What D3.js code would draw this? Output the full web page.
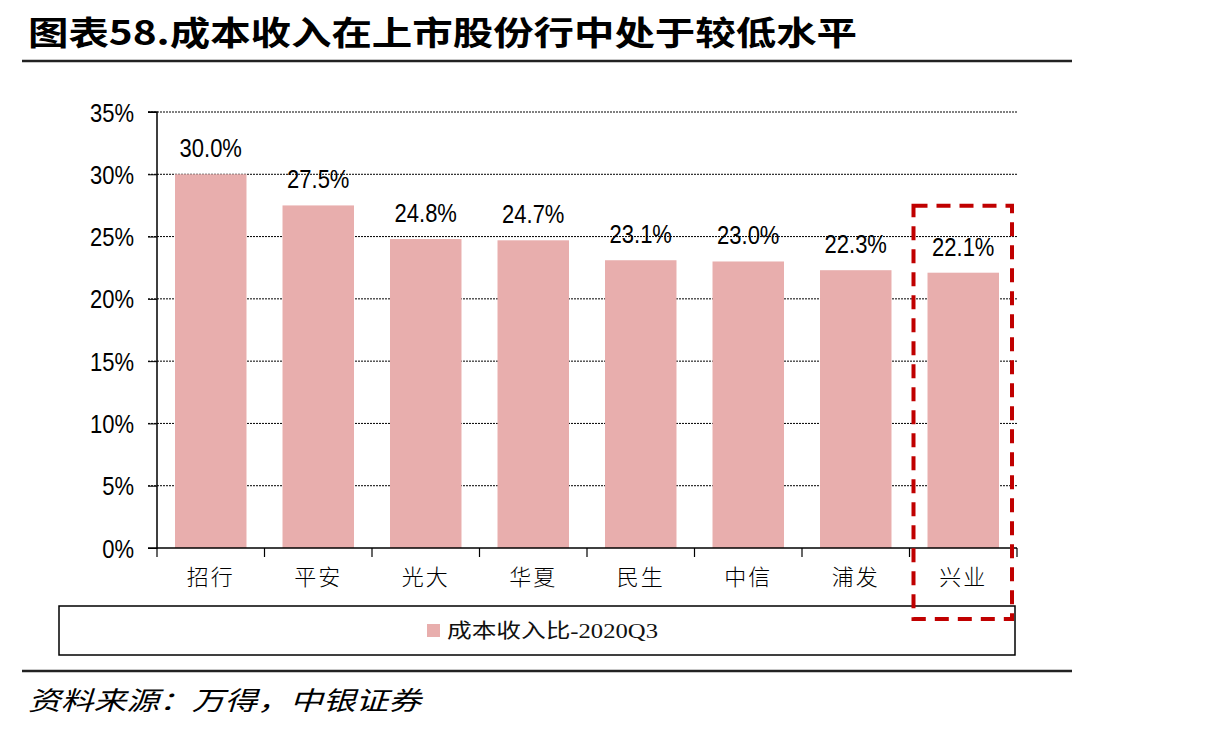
<!DOCTYPE html>
<html><head><meta charset="utf-8">
<script src="https://cdn.jsdelivr.net/npm/d3@7/dist/d3.min.js"></script>
<style>body{margin:0;background:#fff}</style>
</head><body>
<svg id="c" width="1211" height="730"></svg>
<script>
const categories = ["招行","平安","光大","华夏","民生","中信","浦发","兴业"];
const values = [30.0, 27.5, 24.8, 24.7, 23.1, 23.0, 22.3, 22.1];
const yTicks = [0,5,10,15,20,25,30,35];
const seriesName = "成本收入比-2020Q3";
const highlight = "兴业";

const svg = d3.select("#c");
const L = 157, R = 1017, T = 112, B = 548;
const x = d3.scaleBand().domain(categories).range([L, R]).paddingInner(0.335).paddingOuter(0.1675);
const y = d3.scaleLinear().domain([0, 35]).range([B, T]);
const bandStep = x.step();

// make Arial-like digits taller but keep width (narrow look)
function narrow(sel, base, tall) {
  sel.each(function() {
    const t = d3.select(this);
    t.attr("font-size", base);
    const w = this.getComputedTextLength();
    t.attr("font-size", tall).attr("textLength", w).attr("lengthAdjust", "spacingAndGlyphs");
  });
}

// title
svg.append("text").attr("x", 28).attr("y", 45)
  .attr("font-family", "'Noto Sans CJK SC', sans-serif").attr("font-weight", "bold")
  .attr("font-size", 33).attr("textLength", 829).attr("lengthAdjust", "spacingAndGlyphs")
  .text("图表58.成本收入在上市股份行中处于较低水平");
svg.append("line").attr("x1", 22).attr("x2", 1072).attr("y1", 61).attr("y2", 61)
  .attr("stroke", "#222").attr("stroke-width", 2.5);

// gridlines
svg.append("g").selectAll("line").data(yTicks.filter(d => d > 0)).join("line")
  .attr("x1", L - 9).attr("x2", R).attr("y1", d => y(d)).attr("y2", d => y(d))
  .attr("stroke", "#000").attr("stroke-width", 1).attr("stroke-dasharray", "2,1");

// y axis
const yAxis = d3.axisLeft(y).tickValues(yTicks).tickFormat(d => d + "%").tickSize(9).tickPadding(14);
const gy = svg.append("g").attr("transform", `translate(${L},0)`).call(yAxis);
gy.select(".domain").attr("stroke", "#000").attr("stroke-width", 1.5).attr("d", `M-9,${T}H0V${B}H-9`);
gy.selectAll(".tick line").attr("stroke", "#000").attr("stroke-width", 1);
gy.selectAll(".tick text").attr("font-family", "'Liberation Sans', Arial, sans-serif")
  .attr("fill", "#000").attr("dy", "0.36em").call(narrow, 22, 25);

// bars
svg.append("g").selectAll("rect").data(values).join("rect")
  .attr("x", (d, i) => x(categories[i])).attr("width", x.bandwidth())
  .attr("y", d => y(d)).attr("height", d => B - y(d))
  .attr("fill", "#E8AEAD");

// value labels
svg.append("g").selectAll("text").data(values).join("text")
  .attr("x", (d, i) => x(categories[i]) + x.bandwidth() / 2)
  .attr("y", d => y(d) - 17)
  .attr("text-anchor", "middle")
  .attr("font-family", "'Liberation Sans', Arial, sans-serif").attr("fill", "#000")
  .text(d => d.toFixed(1) + "%").call(narrow, 22, 25);

// x axis
const gx = svg.append("g").attr("transform", `translate(0,${B})`);
gx.append("line").attr("x1", L).attr("x2", R).attr("y1", 0).attr("y2", 0).attr("stroke", "#000").attr("stroke-width", 1.5);
const bounds = categories.map(c => x(c) - x.step() * x.paddingOuter()).concat([R]);
gx.selectAll("line.t").data(bounds).join("line").attr("class", "t")
  .attr("x1", d => d).attr("x2", d => d).attr("y1", 0).attr("y2", 9).attr("stroke", "#000").attr("stroke-width", 1.2);
gx.selectAll("text").data(categories).join("text")
  .attr("x", d => x(d) + x.bandwidth() / 2).attr("y", 37)
  .attr("text-anchor", "middle")
  .attr("font-family", "'Noto Sans CJK SC', sans-serif").attr("font-size", 22).attr("fill", "#000")
  .attr("font-weight", 300).attr("letter-spacing", 2)
  .text(d => d);

// legend
svg.append("rect").attr("x", 59).attr("y", 606).attr("width", 956).attr("height", 49)
  .attr("fill", "none").attr("stroke", "#000").attr("stroke-width", 1.5);
svg.append("rect").attr("x", 427).attr("y", 624).attr("width", 13).attr("height", 13).attr("fill", "#E8AEAD");
svg.append("text").attr("x", 447).attr("y", 638)
  .attr("font-family", "'Liberation Serif', 'Noto Sans CJK SC', serif").attr("font-size", 20)
  .attr("textLength", 211).attr("lengthAdjust", "spacingAndGlyphs").attr("fill", "#111")
  .text(seriesName);

// highlight box
const hi = categories.indexOf(highlight);
const hx = x(highlight) - x.step() * x.paddingOuter();
svg.append("rect").attr("x", hx + 4).attr("y", y(values[hi]) - 67)
  .attr("width", bandStep - 9).attr("height", 619 - (y(values[hi]) - 67))
  .attr("fill", "none").attr("stroke", "#C00000").attr("stroke-width", 4)
  .attr("stroke-dasharray", "14,9");

// bottom line and source
svg.append("line").attr("x1", 22).attr("x2", 1072).attr("y1", 671).attr("y2", 671)
  .attr("stroke", "#222").attr("stroke-width", 2.5);
svg.append("text").attr("x", 28).attr("y", 710)
  .attr("font-family", "'Noto Sans CJK SC', sans-serif").attr("font-style", "italic")
  .attr("font-size", 26).attr("textLength", 393).attr("lengthAdjust", "spacingAndGlyphs")
  .text("资料来源：万得，中银证券");
</script>
</body></html>
